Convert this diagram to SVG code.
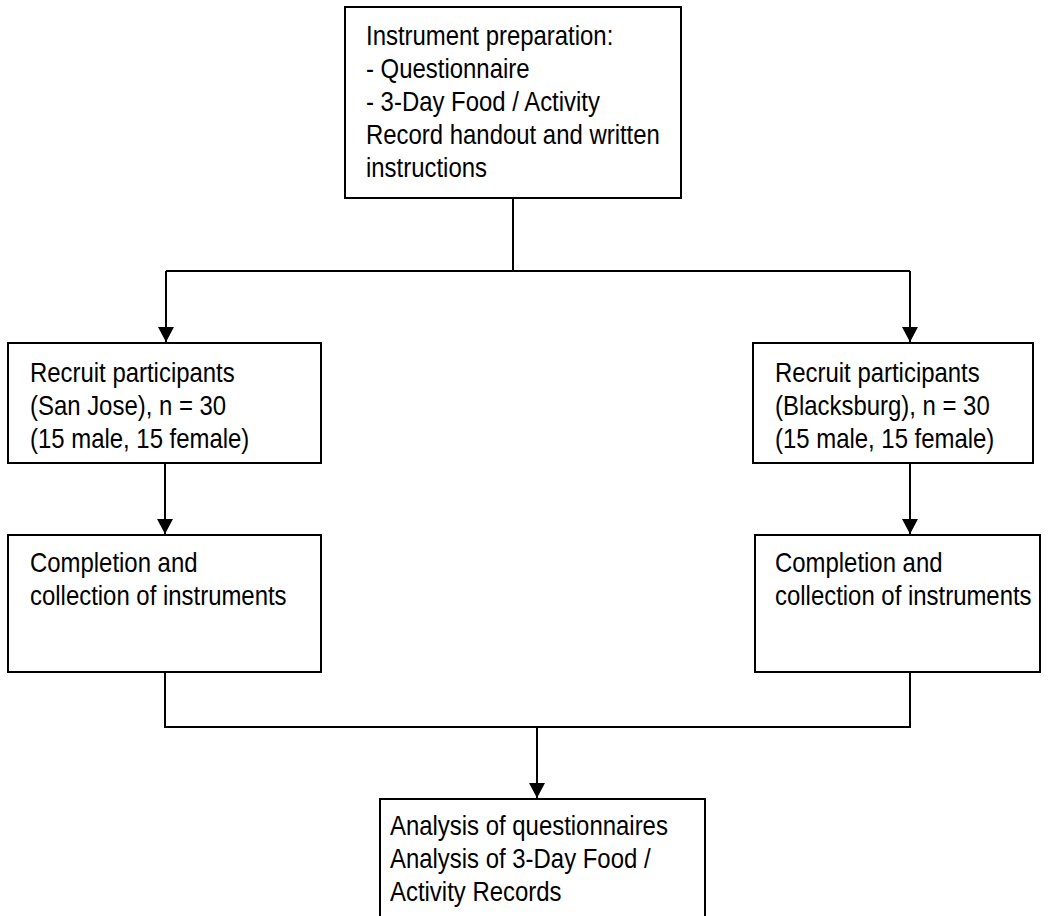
<svg xmlns="http://www.w3.org/2000/svg" width="1058" height="916" viewBox="0 0 1058 916">
<defs>
<style>
.box{fill:#fff;stroke:#000;stroke-width:2}
.lbl{font-family:"Liberation Sans",Arial,sans-serif;font-size:27.5px;fill:#000}
.conn{fill:none;stroke:#000;stroke-width:2}
</style>
<marker id="arr" markerUnits="userSpaceOnUse" markerWidth="15" markerHeight="16" viewBox="0 0 15 16" refX="15" refY="8" orient="auto"><path d="M0,0 L15,8 L0,16 Z" fill="#000"/></marker>
</defs>
<rect width="1058" height="916" fill="#fff"/>
<g id="connectors">
<path class="conn" d="M513,198 V271"/>
<path class="conn" d="M166,271 H910"/>
<path class="conn" d="M166,271 V342" marker-end="url(#arr)"/>
<path class="conn" d="M910,271 V342" marker-end="url(#arr)"/>
<path class="conn" d="M165,463 V534" marker-end="url(#arr)"/>
<path class="conn" d="M910,463 V534" marker-end="url(#arr)"/>
<path class="conn" d="M165,672 V727 H910 V672"/>
<path class="conn" d="M537,727 V798" marker-end="url(#arr)"/>
</g>
<g id="n-prep">
<rect class="box" x="345" y="7" width="336" height="191"/>
<text class="lbl" transform="translate(366 0) scale(0.87 1)"><tspan x="0" y="45">Instrument preparation:</tspan><tspan x="0" y="78">- Questionnaire</tspan><tspan x="0" y="111">- 3-Day Food / Activity</tspan><tspan x="0" y="144">Record handout and written</tspan><tspan x="0" y="177">instructions</tspan></text>
</g>
<g id="n-recruit-sj">
<rect class="box" x="8" y="343" width="313" height="120"/>
<text class="lbl" transform="translate(30 0) scale(0.87 1)"><tspan x="0" y="382">Recruit participants</tspan><tspan x="0" y="415">(San Jose), n = 30</tspan><tspan x="0" y="448">(15 male, 15 female)</tspan></text>
</g>
<g id="n-recruit-bb">
<rect class="box" x="753" y="343" width="280" height="120"/>
<text class="lbl" transform="translate(775 0) scale(0.87 1)"><tspan x="0" y="382">Recruit participants</tspan><tspan x="0" y="415">(Blacksburg), n = 30</tspan><tspan x="0" y="448">(15 male, 15 female)</tspan></text>
</g>
<g id="n-complete-sj">
<rect class="box" x="8" y="535" width="313" height="137"/>
<text class="lbl" transform="translate(30 0) scale(0.87 1)"><tspan x="0" y="572">Completion and</tspan><tspan x="0" y="605">collection of instruments</tspan></text>
</g>
<g id="n-complete-bb">
<rect class="box" x="755" y="535" width="285" height="137"/>
<text class="lbl" transform="translate(775 0) scale(0.87 1)"><tspan x="0" y="572">Completion and</tspan><tspan x="0" y="605">collection of instruments</tspan></text>
</g>
<g id="n-analysis">
<rect class="box" x="380" y="799" width="325" height="140"/>
<text class="lbl" transform="translate(390 0) scale(0.87 1)"><tspan x="0" y="835">Analysis of questionnaires</tspan><tspan x="0" y="868">Analysis of 3-Day Food /</tspan><tspan x="0" y="901">Activity Records</tspan></text>
</g>
</svg>
